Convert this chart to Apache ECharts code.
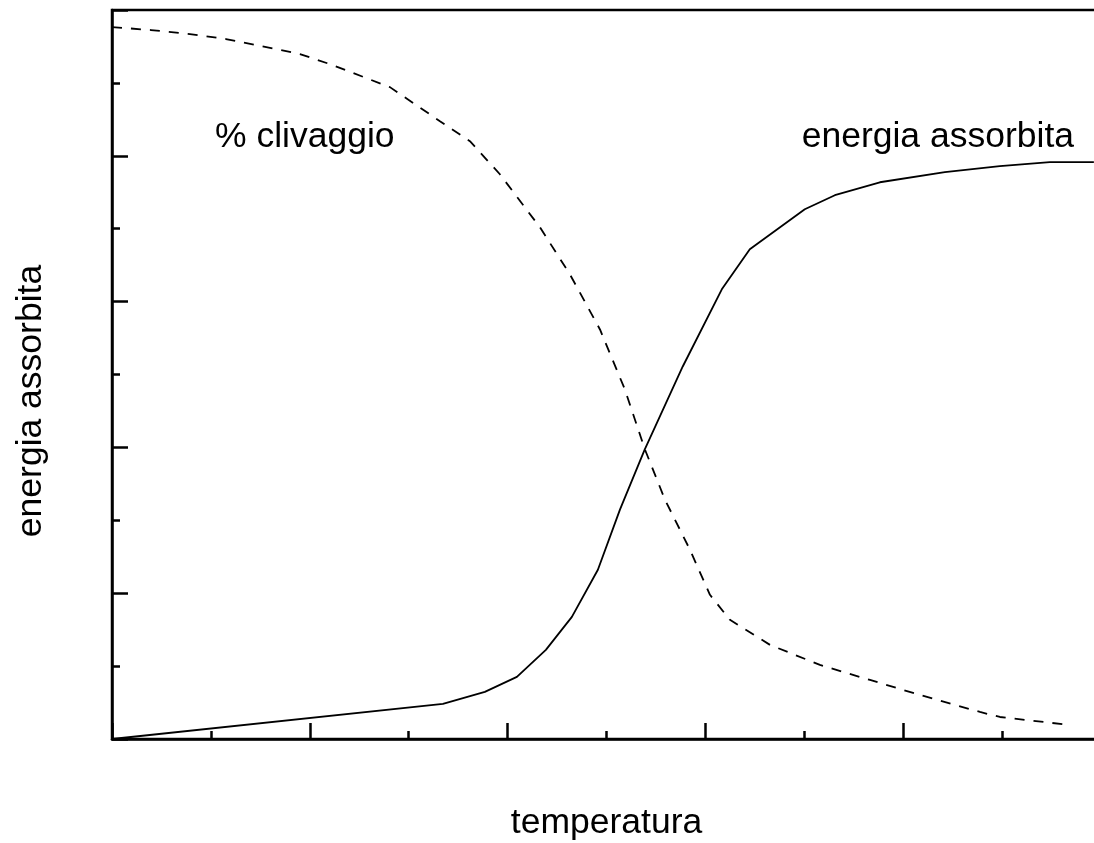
<!DOCTYPE html>
<html>
<head>
<meta charset="utf-8">
<script src="https://cdn.jsdelivr.net/npm/echarts@6/dist/echarts.min.js"></script>
<style>
html,body{margin:0;padding:0;background:#fff;overflow:hidden;}
#chart{width:1094px;height:843px;}
</style>
</head>
<body>
<div id="chart"></div>
<script>
// Solid curve: energia assorbita
const energyX = [0, 3.346, 3.77, 4.094, 4.387, 4.65, 4.913, 5.136, 5.386, 5.771, 6.166, 6.449, 7.005, 7.309, 7.764, 8.421, 8.977, 9.483, 9.928];
const energyY = [0, 0.481, 0.646, 0.852, 1.223, 1.676, 2.321, 3.146, 3.97, 5.11, 6.168, 6.717, 7.266, 7.459, 7.637, 7.775, 7.857, 7.912, 7.912];
// Dashed curve: % clivaggio
const cleavageX = [0, 0.394, 0.788, 1.152, 1.506, 1.9, 2.203, 2.81, 3.316, 3.619, 3.922, 4.327, 4.63, 4.934, 5.186, 5.389, 5.591, 5.844, 6.046, 6.248, 6.653, 7.158, 7.664, 8.169, 8.776, 8.978, 9.686];
const cleavageY = [9.766, 9.725, 9.67, 9.602, 9.505, 9.396, 9.258, 8.942, 8.475, 8.2, 7.747, 7.019, 6.374, 5.618, 4.794, 3.97, 3.283, 2.596, 1.978, 1.635, 1.291, 1.016, 0.81, 0.604, 0.371, 0.302, 0.192];
const xAxisTitle = 'temperatura';
const yAxisTitle = 'energia assorbita';
const labelCleavage = '% clivaggio';
const labelEnergy = 'energia assorbita';

const FONT = '35.5px "Liberation Sans", Arial, sans-serif';

const energyData = energyX.map((x, i) => [x, energyY[i]]);
const cleavageData = cleavageX.map((x, i) => [x, cleavageY[i]]);

const axisCommon = {
  type: 'value',
  min: 0,
  max: 10,
  interval: 2,
  axisLine: {show: true, onZero: false, lineStyle: {color: '#000', width: 2.5}},
  axisTick: {show: true, inside: true, length: 16, lineStyle: {color: '#000', width: 2.5}},
  minorTick: {show: true, splitNumber: 2, length: 8, lineStyle: {color: '#000', width: 2.5}},
  axisLabel: {show: false},
  splitLine: {show: false},
  minorSplitLine: {show: false}
};

const chart = echarts.init(document.getElementById('chart'));
chart.setOption({
  animation: false,
  backgroundColor: '#fff',
  grid: {
    left: 112, width: 989, top: 10, height: 729,
    containLabel: false,
    outerBoundsMode: 'none',
    show: true, borderColor: '#000', borderWidth: 2.5, backgroundColor: 'transparent'
  },
  xAxis: Object.assign({}, axisCommon),
  yAxis: Object.assign({}, axisCommon),
  series: [
    {
      type: 'line',
      data: energyData,
      showSymbol: false,
      symbol: 'none',
      smooth: false,
      lineStyle: {color: '#000', width: 1.8, type: 'solid'}
    },
    {
      type: 'line',
      data: cleavageData,
      showSymbol: false,
      symbol: 'none',
      smooth: false,
      lineStyle: {color: '#000', width: 1.8, type: [10, 9]}
    }
  ],
  graphic: [
    {type: 'text', x: 215, y: 137, style: {text: labelCleavage, font: FONT, fill: '#000', textAlign: 'left', textVerticalAlign: 'middle'}},
    {type: 'text', x: 1074, y: 137, style: {text: labelEnergy, font: FONT, fill: '#000', textAlign: 'right', textVerticalAlign: 'middle'}},
    {type: 'text', x: 606.5, y: 823, style: {text: xAxisTitle, font: FONT, fill: '#000', textAlign: 'center', textVerticalAlign: 'middle'}},
    {type: 'text', x: 31, y: 401, rotation: Math.PI / 2, style: {text: yAxisTitle, font: FONT, fill: '#000', textAlign: 'center', textVerticalAlign: 'middle'}}
  ]
});
</script>
</body>
</html>
